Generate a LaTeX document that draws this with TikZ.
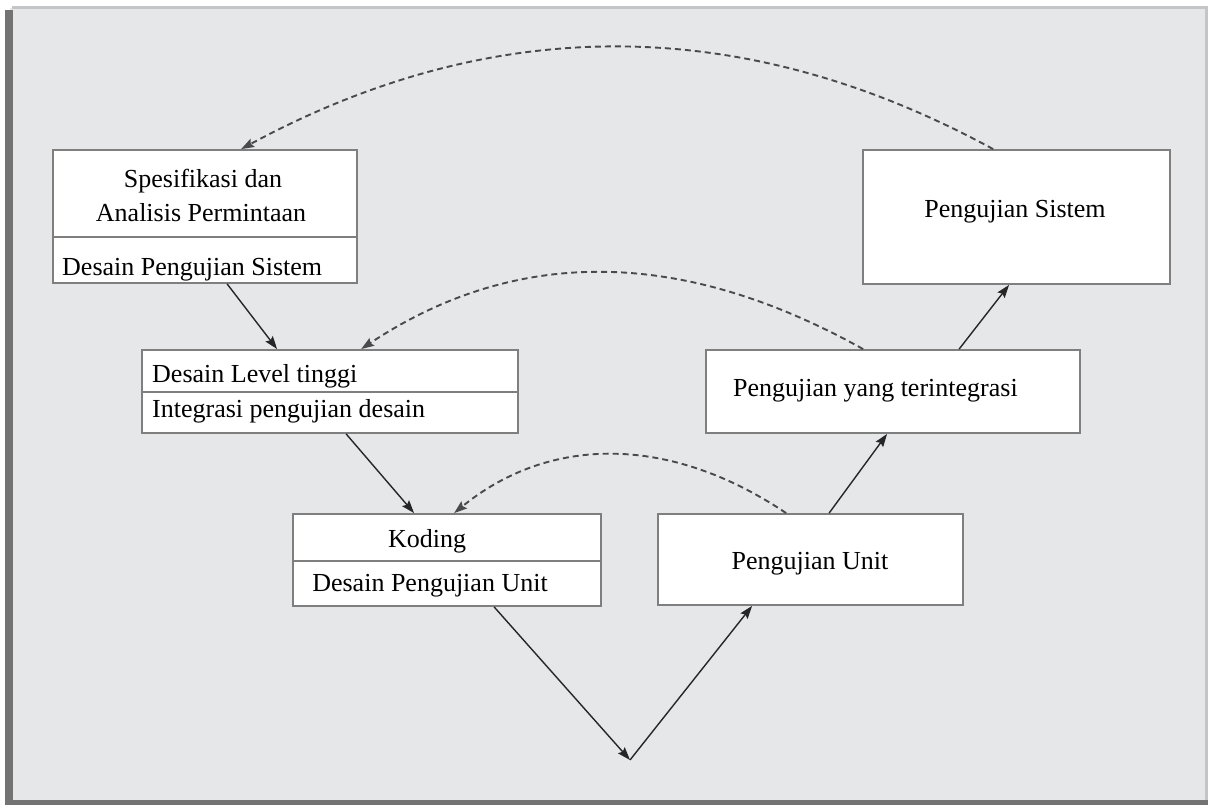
\documentclass[tikz,border=0pt]{standalone}
\usepackage{fontspec}
\setmainfont{LiberationSerif}[Extension=.ttf, UprightFont=*-Regular, BoldFont=*-Bold]
\usetikzlibrary{arrows.meta,calc}
\definecolor{panelc}{HTML}{E6E7E9}
\definecolor{boxc}{HTML}{7F7F7F}
\definecolor{edgedark}{HTML}{737373}
\definecolor{edgelight}{HTML}{C4C5C7}
\definecolor{flowc}{HTML}{262626}
\definecolor{backc}{HTML}{4A4A4A}
\begin{document}
\begin{tikzpicture}[x=1pt,y=-1pt,
  box/.style={draw=boxc, line width=1.8pt, fill=white, rectangle, inner sep=0pt},
  divline/.style={draw=boxc, line width=1.8pt},
  lbl/.style={inner sep=0pt, font=\fontsize{26}{30}\selectfont, text=black},
  flow/.style={draw=flowc, line width=1.4pt, -{Stealth[length=13pt,width=9pt,inset=2pt]}},
  back/.style={draw=backc, line width=1.9pt, dash pattern=on 6pt off 4pt, -{Stealth[length=13pt,width=9pt,inset=2pt]}}]
\useasboundingbox (0,0) rectangle (1209,805);
\fill[white] (0,0) rectangle (1209,805);
\fill[panelc] (10,8) rectangle (1206,801);
\fill[edgelight] (12,6) rectangle (1208,9);
\fill[edgelight] (1205,6) rectangle (1208,801);
\fill[edgedark] (5,10) rectangle (13,805);
\fill[edgedark] (5,800) rectangle (1208,805);

% boxes
\node[box, minimum width=304pt, minimum height=133pt] (spec) at (205,216.5) {};
\node[box, minimum width=376pt, minimum height=83pt] (hl) at (330,391.5) {};
\node[box, minimum width=308pt, minimum height=92pt] (kod) at (447,560) {};
\node[box, minimum width=305pt, minimum height=91pt] (pu) at (810.5,559.5) {};
\node[box, minimum width=374pt, minimum height=83pt] (pyt) at (893,391.5) {};
\node[box, minimum width=307pt, minimum height=134pt] (ps) at (1016.5,217) {};

% dividers
\coordinate (d1) at (0,237);
\coordinate (d2) at (0,392);
\coordinate (d3) at (0,561);
\draw[divline] (spec.west |- d1) -- (spec.east |- d1);
\draw[divline] (hl.west |- d2) -- (hl.east |- d2);
\draw[divline] (kod.west |- d3) -- (kod.east |- d3);

% texts
\node[lbl, anchor=base] (t1) at (203,188) {Spesifikasi dan};
\node[lbl, anchor=base] (t2) at (201,221) {Analisis Permintaan};
\node[lbl, anchor=base west] (t3) at (62,275) {Desain Pengujian Sistem};
\node[lbl, anchor=base west] (t4) at (152,382) {Desain Level tinggi};
\node[lbl, anchor=base west] (t5) at (152,417) {Integrasi pengujian desain};
\node[lbl, anchor=base] (t6) at (427,547) {Koding};
\node[lbl, anchor=base] (t7) at (430,591) {Desain Pengujian Unit};
\node[lbl, anchor=base] (t8) at (810,569) {Pengujian Unit};
\node[lbl, anchor=base west] (t9) at (733,396) {Pengujian yang terintegrasi};
\node[lbl, anchor=base] (t10) at (1015,217) {Pengujian Sistem};

% V point
\coordinate (v) at (630,760);

% solid flow arrows
\draw[flow] ([xshift=175pt]spec.south west) -- ([xshift=136pt]hl.north west);
\draw[flow] ([xshift=205pt]hl.south west) -- ([xshift=122pt]kod.north west);
\draw[flow] ([xshift=202pt]kod.south west) -- (v);
\draw[flow] (v) -- ([xshift=95pt]pu.south west);
\draw[flow] ([xshift=172pt]pu.north west) -- ([xshift=182pt]pyt.south west);
\draw[flow] ([xshift=254pt]pyt.north west) -- ([xshift=147pt]ps.south west);

% dashed feedback arrows
\draw[back] ([xshift=131pt]ps.north west) .. controls (743,13) and (493,13) .. ([xshift=189pt]spec.north west);
\draw[back] ([xshift=158pt]pyt.north west) .. controls (680,247) and (515,247) .. ([xshift=220pt]hl.north west);
\draw[back] ([xshift=129pt]pu.north west) .. controls (670,435) and (550,435) .. ([xshift=162pt]kod.north west);
\end{tikzpicture}
\end{document}
